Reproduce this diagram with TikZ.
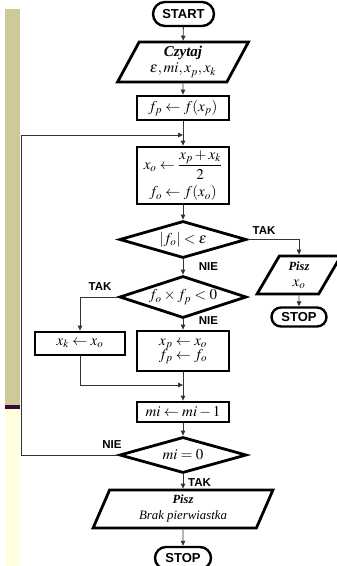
\documentclass[tikz,border=0pt]{standalone}
\usepackage{amsmath}
\usepackage{mathptmx}
\usepackage{fontspec}
\setmainfont{Liberation Serif}
\setsansfont{Liberation Sans}
\usetikzlibrary{
  arrows.meta,
  shapes.geometric,
  shapes.misc
}
\definecolor{stripOlive}{HTML}{CDCA98}
\definecolor{stripPlum}{HTML}{3A0B3A}
\definecolor{stripCream}{HTML}{FFFFE0}
\definecolor{flowInk}{HTML}{333333}

\begin{document}
\begin{tikzpicture}[x=1pt,y=-1pt,
  conn/.style={draw=flowInk, line width=0.8pt,
    -{Triangle[length=5pt,width=4.5pt]}},
  box/.style={draw, line width=2.8pt, fill=white, inner sep=1pt,
    align=center, minimum width=92pt, font={\fontsize{15}{16}\selectfont}},
  para/.style={trapezium, trapezium stretches=true, draw, line width=2.8pt,
    fill=white, inner sep=1pt, align=center, minimum height=38pt,
    font={\fontsize{15}{16}\selectfont}},
  cond/.style={diamond, shape aspect=3.2, draw, line width=2.8pt, fill=white,
    inner sep=0pt, minimum width=127pt, font={\fontsize{15}{16}\selectfont}},
  term/.style={rounded rectangle, draw, line width=2.4pt, fill=white,
    inner sep=0pt, font={\fontsize{13}{14}\selectfont\sffamily\bfseries}},
  lbl/.style={inner sep=0pt, font={\fontsize{11.5}{12}\selectfont\sffamily\bfseries}}]
  \useasboundingbox (0,0) rectangle (337,566);

  % side strip
  \fill[stripOlive] (5,9) rectangle (20,405);
  \fill[stripPlum] (5,405) rectangle (20,409);
  \fill[stripCream] (5,409) rectangle (20,566);

  \node[term, minimum width=61pt, minimum height=24pt] (start) at (183.5,14) {START};
  \node[para, trapezium left angle=63, trapezium right angle=117,
    minimum width=131pt, minimum height=40pt] (read) at (183,62)
    {\textbf{\textit{Czytaj}}\\ $\varepsilon, mi, x_p, x_k$};
  \node[box, minimum height=24pt] (fp) at (183,108) {$f_p \leftarrow f(x_p)$};
  \node[box, minimum height=57pt, inner sep=0pt] (mid) at (183,175.5)
    {$x_o \leftarrow \dfrac{x_p+x_k}{2}$\\[5pt] $f_o \leftarrow f(x_o)$};
  \node[cond, minimum height=37pt] (test1) at (183,239.5) {$|f_o| < \varepsilon$};

  \node[para, trapezium left angle=66, trapezium right angle=114,
    minimum width=84pt] (writex) at (299,275)
    {{\fontsize{12.5}{14}\selectfont\textbf{\textit{Pisz}}}\\ $x_o$};
  \node[term, minimum width=55pt, minimum height=19pt] (stop1) at (299,317) {STOP};

  \node[cond, minimum height=42pt] (test2) at (183,297) {$f_o \times f_p < 0$};
  \node[box, minimum width=90pt, minimum height=23pt] (setk) at (80,343.5) {$x_k \leftarrow x_o$};
  \node[box, minimum height=40pt] (setp) at (183,351)
    {$x_p \leftarrow x_o$\\[-2pt] $f_p \leftarrow f_o$};
  \node[box, minimum height=20pt] (dec) at (183,412) {$mi \leftarrow mi - 1$};
  \node[cond, minimum height=36pt] (test3) at (183,455) {$mi = 0$};
  \node[para, trapezium left angle=71, trapezium right angle=109,
    minimum width=180pt] (writenone) at (183,509)
    {{\fontsize{12.5}{14}\selectfont\textbf{\textit{Pisz}}}\\
     {\fontsize{12.8}{14}\selectfont\textit{Brak pierwiastka}}};
  \node[term, minimum width=56pt, minimum height=22pt] (stop2) at (183,558) {STOP};

  \coordinate (join1) at (183,135);
  \coordinate (loop) at (21,135);
  \coordinate (join2) at (183,385);

  \draw[conn] (start) -- (read);
  \draw[conn] (read) -- (fp);
  \draw[conn] (fp) -- (mid);
  \draw[conn] (mid) -- (test1);
  \draw[conn] (test1.east) -| (writex.north);
  \draw[conn] (writex) -- (stop1);
  \draw[conn] (test1) -- (test2);
  \draw[conn] (test2.west) -| (setk.north);
  \draw[conn] (test2) -- (setp);
  \draw[conn] (setk.south) |- (join2);
  \draw[conn] (setp) -- (dec);
  \draw[conn] (dec) -- (test3);
  \draw[conn] (test3.west) -| (loop) -- (join1);
  \draw[conn] (test3) -- (writenone);
  \draw[conn] (writenone) -- (stop2);

  \node[lbl] (tak1) at (264,231) {TAK};
  \node[lbl] (nie1) at (208.5,267) {NIE};
  \node[lbl] (tak2) at (100,287) {TAK};
  \node[lbl] (nie2) at (208.5,321) {NIE};
  \node[lbl] (nie3) at (112,445) {NIE};
  \node[lbl] (tak3) at (199.5,483) {TAK};
\end{tikzpicture}
\end{document}
